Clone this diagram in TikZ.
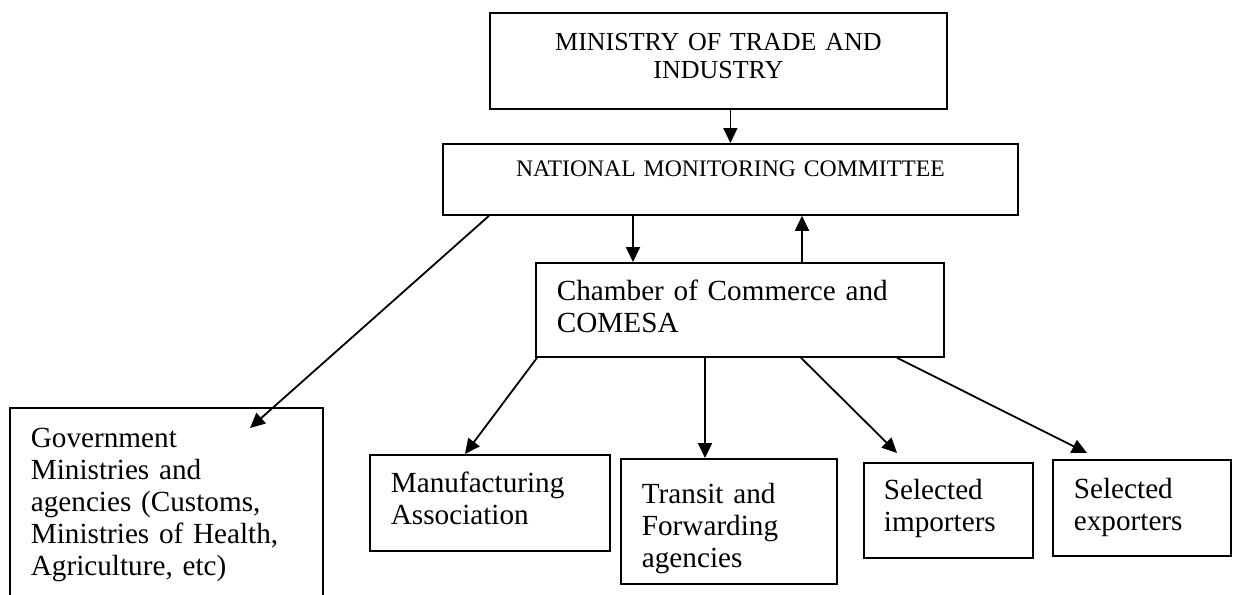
\documentclass[tikz,border=0pt]{standalone}
\usepackage{fontspec}
\setmainfont{Liberation Serif}
\usetikzlibrary{arrows.meta,calc,positioning}
\tikzset{
	box/.style={draw, line width=0.9pt, anchor=north west, inner ysep=0pt, inner xsep=10.5pt,
		align=left, font=\fontsize{14.6}{16}\selectfont},
	boxsize/.style args={#1/#2/#3}{text width=#1pt, text height=#2pt, text depth=#3pt},
	arr/.style={line width=0.9pt, -{Triangle[length=7.5pt,width=7pt]}}
}

\begin{document}
\begin{tikzpicture}[x=0.5pt, y=-0.5pt]
	\clip (0,0) rectangle (1235,594);
	% top of the chart
	\node[box, inner xsep=3pt, align=center, font=\fontsize{13}{14}\selectfont, boxsize=222.5/19/29] (ministry) at (489,12) {MINISTRY OF TRADE AND\\INDUSTRY};
	\node[box, inner xsep=3pt, align=center, font=\fontsize{11.85}{13}\selectfont, boxsize=281.5/16.5/19] (national) at (442,143) {NATIONAL MONITORING COMMITTEE};
	\node[box, boxsize=183/19/28] (chamber) at (535,262) {Chamber of Commerce and\\COMESA};
	% bottom row
	\node[box, boxsize=135.5/20/90] (govt) at (9,407) {Government\\Ministries and\\agencies (Customs,\\Ministries of Health,\\Agriculture, etc)};
	\node[box, boxsize=99/19/29] (manufacturing) at (369,454) {Manufacturing\\Association};
	\node[box, boxsize=87/22.5/40] (transit) at (620,458) {Transit and\\Forwarding\\agencies};
	\node[box, inner xsep=10pt, boxsize=64.5/18.5/29] (importers) at (863,462) {Selected\\importers};
	\node[box, boxsize=68/19.5/28.5] (exporters) at (1052,459) {Selected\\exporters};

	\coordinate (c1) at ($(chamber.north west)+(98,0)$);
	\coordinate (c2) at ($(chamber.north west)+(267,0)$);
	\coordinate (t1) at ($(transit.north west)+(85,0)$);

	\draw[arr] (ministry.south -| national.north) -- (national.north);
	\draw[arr] (national.south -| c1) -- (c1);
	\draw[arr] (c2) -- (national.south -| c2);
	\draw[arr] ($(national.south west)+(47,0)$) -- ($(govt.north west)+(241,21)$);
	\draw[arr] ($(chamber.south west)+(2,0)$) -- ($(manufacturing.north west)+(96,0)$);
	\draw[arr] (chamber.south -| t1) -- (t1);
	\draw[arr] ($(chamber.south west)+(266,0)$) -- ($(importers.north west)+(34,-9)$);
	\draw[arr] ($(chamber.south west)+(362,0)$) -- ($(exporters.north west)+(35,-6)$);
\end{tikzpicture}
\end{document}
